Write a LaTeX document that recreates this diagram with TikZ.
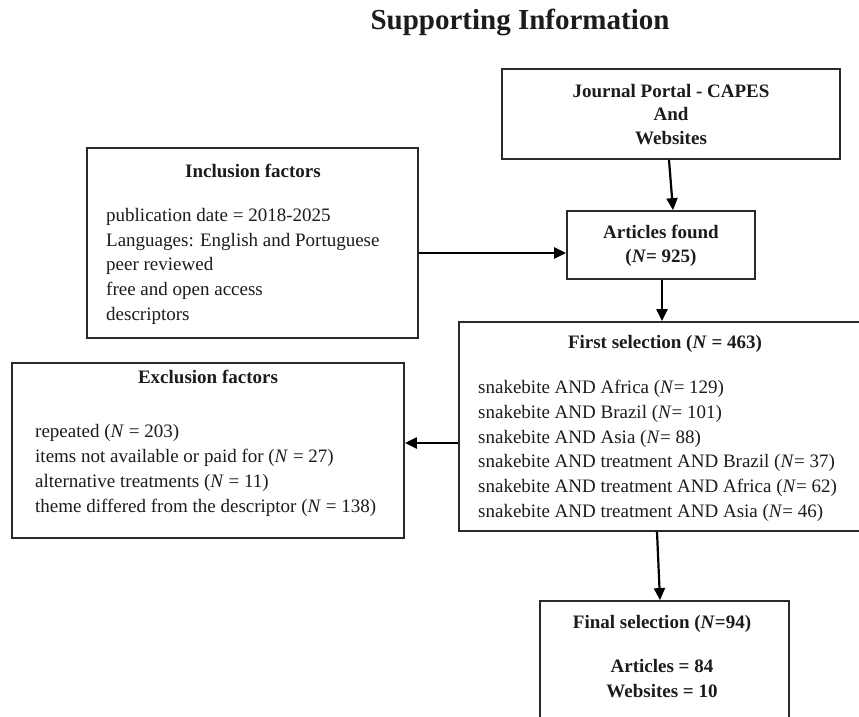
\documentclass[tikz,border=0pt]{standalone}
\usepackage{fontspec}
\setmainfont{Liberation Serif}
\usetikzlibrary{arrows.meta}
\definecolor{boxc}{HTML}{2A2A2A}
\definecolor{txtc}{HTML}{1C1C1C}
\begin{document}
\begin{tikzpicture}[x=1pt,y=-1pt,
  box/.style={draw=boxc, line width=1.8pt, inner sep=0pt},
  txt/.style={inner sep=0pt, text=txtc, font=\fontsize{19}{24.8}\selectfont},
  btxt/.style={inner sep=0pt, text=txtc, font=\fontsize{19}{24}\selectfont\bfseries},
  arr/.style={draw=black, line width=2.2pt, -{Triangle[length=12pt,width=11pt]}}]
\clip (0,0) rectangle (859,717);
\fill[white] (0,0) rectangle (859,717);
% title
\node[inner sep=0pt, text=txtc, font=\fontsize{29}{34}\selectfont\bfseries, anchor=base] (title) at (520,30) {Supporting Information};
% boxes
\node[box, minimum width=338pt, minimum height=90pt] (J) at (671,114) {};
\node[box, minimum width=188pt, minimum height=68pt] (A) at (661,245) {};
\node[box, minimum width=331pt, minimum height=190pt] (I) at (252.5,243) {};
\node[box, minimum width=412pt, minimum height=209pt] (F) at (665,426.5) {};
\node[box, minimum width=392pt, minimum height=175pt] (E) at (208,450.5) {};
\node[box, minimum width=249pt, minimum height=159pt] (S) at (664.5,680.5) {};
% texts
\node[btxt, align=center, anchor=north, font=\fontsize{19}{23.5}\selectfont\bfseries] (Jt) at (671,84) {Journal Portal - CAPES\\And\\Websites};
\node[btxt, align=center, anchor=north] (At) at (661,225) {Articles found\\(\textit{N}= 925)};
\node[btxt, anchor=base] (Ih) at (253,177) {Inclusion factors};
\node[txt, align=left, anchor=north west] (Ib) at (106,208) {publication date = 2018-2025\\Languages: English and Portuguese\\peer reviewed\\free and open access\\descriptors};
\node[btxt, anchor=base] (Fh) at (665,348) {First selection (\textit{N} = 463)};
\node[txt, align=left, anchor=north west] (Fb) at (478,380) {snakebite AND Africa (\textit{N}= 129)\\snakebite AND Brazil (\textit{N}= 101)\\snakebite AND Asia (\textit{N}= 88)\\snakebite AND treatment AND Brazil (\textit{N}= 37)\\snakebite AND treatment AND Africa (\textit{N}= 62)\\snakebite AND treatment AND Asia (\textit{N}= 46)};
\node[btxt, anchor=base] (Eh) at (208,383) {Exclusion factors};
\node[txt, align=left, anchor=north west, font=\fontsize{19}{25}\selectfont] (Eb) at (35,424) {repeated (\textit{N} = 203)\\items not available or paid for (\textit{N} = 27)\\alternative treatments (\textit{N} = 11)\\theme differed from the descriptor (\textit{N} = 138)};
\node[btxt, anchor=base] (Sh) at (662,628) {Final selection (\textit{N}=94)};
\node[btxt, align=center, anchor=north, font=\fontsize{19}{25}\selectfont\bfseries] (Sb) at (662,659) {Articles = 84\\Websites = 10};
% connectors
\draw[arr] ([xshift=-2pt]J.south) -- ([xshift=12pt]A.north);
\draw[arr] ([yshift=-8pt]A.west -| I.east) -- ([yshift=-8pt]A.west);
\draw[arr] ([xshift=1pt]A.south) -- ([xshift=1pt]A.south |- F.north);
\draw[arr] ([yshift=-16.5pt]F.west) -- ([yshift=-16.5pt]F.west -| E.east);
\draw[arr] ([xshift=-8pt]F.south) -- ([xshift=-4.5pt]S.north);
\end{tikzpicture}
\end{document}
